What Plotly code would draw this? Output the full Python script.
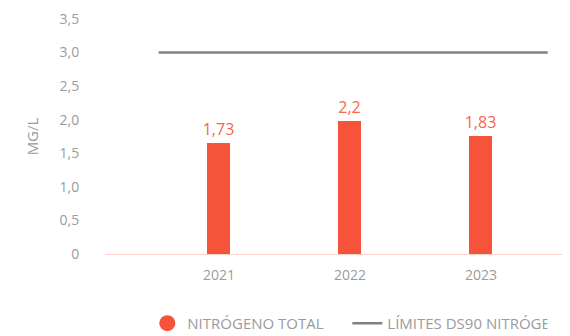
import plotly.graph_objects as go

years = ["2021", "2022", "2023"]
nitrogeno_total = [1.66, 1.985, 1.76]
bar_labels = ["1,73", "2,2", "1,83"]
limite_ds90 = 3.0
y_tickvals = [0, 0.5, 1.0, 1.5, 2.0, 2.5, 3.0, 3.5]
y_ticktext = ["0", "0,5", "1,0", "1,5", "2,0", "2,5", "3,0", "3,5"]

BAR = "#F5533A"
LABEL = "#F5674C"
GRAY = "#9B9B9B"
FONT = "Open Sans, sans-serif"

xs = list(range(len(years)))

fig = go.Figure()
fig.add_trace(go.Bar(
    x=xs, y=nitrogeno_total, width=0.176,
    marker=dict(color=BAR, line=dict(width=0)),
    text=bar_labels, textposition="outside", cliponaxis=False,
    constraintext="none",
    textfont=dict(color=LABEL, size=16, family=FONT),
    showlegend=False, name="NITRÓGENO TOTAL",
))
fig.add_trace(go.Scatter(
    x=[None], y=[None], mode="markers",
    marker=dict(color=BAR, size=18, symbol="circle"),
    name="NITRÓGENO TOTAL",
))
fig.add_trace(go.Scatter(
    x=[xs[0] - 0.46, xs[-1] + 0.51], y=[limite_ds90, limite_ds90],
    mode="lines", line=dict(color="#808080", width=2.5),
    name="LÍMITES DS90 NITRÓGENO",
))

fig.update_layout(
    width=562, height=328,
    margin=dict(l=97, r=0, t=11, b=81.5, autoexpand=False),
    paper_bgcolor="white", plot_bgcolor="white",
    font=dict(family=FONT, color=GRAY, size=14),
    bargap=0,
    legend=dict(orientation="h", x=0.091, xanchor="left", y=-0.225, yanchor="top",
                font=dict(size=15, color=GRAY, family=FONT),
                itemwidth=30, traceorder="normal", entrywidth=155),
    xaxis=dict(range=[-0.87, 2.68], tickvals=xs, ticktext=years,
               showgrid=False, zeroline=False, showline=True,
               linecolor="#FDD3C9", linewidth=1,
               ticks="outside", ticklen=8, tickcolor="rgba(0,0,0,0)",
               tickfont=dict(size=14, color=GRAY), automargin=False),
    yaxis=dict(range=[0, 3.5], tickvals=y_tickvals, ticktext=y_ticktext,
               showgrid=False, zeroline=False, showline=False,
               ticks="outside", ticklen=22, tickcolor="rgba(0,0,0,0)",
               tickfont=dict(size=14, color=GRAY), automargin=False,
               title=dict(text="MG/L", standoff=17, font=dict(size=15, color=GRAY))),
)

fig.write_html("out.html")
